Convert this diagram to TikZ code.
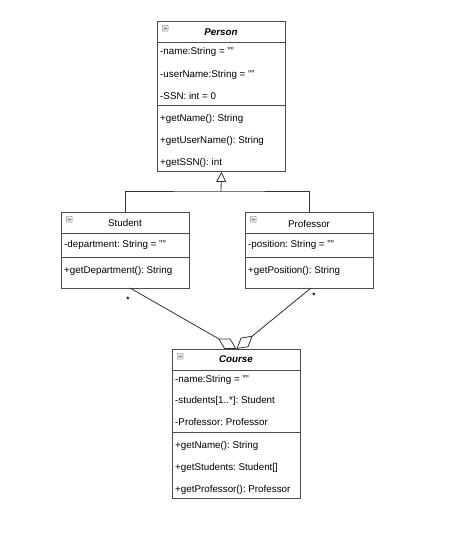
\documentclass[tikz,border=0pt]{standalone}
\usepackage{fontspec}
\setmainfont{Liberation Sans}
\usetikzlibrary{arrows.meta}
\frenchspacing
\tikzset{
  umlbox/.style={draw=black!70, line width=0.9pt, inner sep=0pt, anchor=north west, minimum width=128pt},
  sepline/.style={draw=black!70, line width=0.9pt},
  row/.style={anchor=west, inner sep=0pt, font=\fontsize{9.8}{11}\selectfont},
  hdr/.style={inner sep=0pt, font=\fontsize{9.8}{11}\selectfont},
  hdrbi/.style={inner sep=0pt, font=\fontsize{9.8}{11}\selectfont\bfseries\itshape},
  icon/.style={draw=black!45, fill=black!12, rounded corners=0.8pt, line width=0.4pt, minimum size=6pt, inner sep=0pt, anchor=north west},
  conn/.style={draw=black!80, line width=0.8pt},
  mult/.style={inner sep=0pt, font=\fontsize{8}{9}\selectfont\bfseries},
}
\begin{document}
\begin{tikzpicture}[x=1pt,y=-1pt]
\useasboundingbox[fill=white] (0,0) rectangle (474,549);

% Person
\node[umlbox, minimum height=150pt] (person) at (157,21) {};
\node[icon] (pi) at (162,25) {};
\draw[black!55, line width=0.5pt] ([xshift=1.5pt]pi.west) -- ([xshift=-1.5pt]pi.east);
\node[hdrbi] (ph) at (221,32) {Person};
\draw[sepline] (157,42) -- (285,42);
\node[row] (p1) at (160,52) {-name:String = ""};
\node[row] (p2) at (160,75) {-userName:String = ""};
\node[row] (p3) at (160,96) {-SSN: int = 0};
\draw[sepline] (157,105) -- (285,105);
\node[row] (p4) at (160,119) {+getName(): String};
\node[row] (p5) at (160,141) {+getUserName(): String};
\node[row] (p6) at (160,163) {+getSSN(): int};

% Student
\node[umlbox, minimum height=76pt] (student) at (61,212) {};
\node[icon] (si) at (66,216) {};
\draw[black!55, line width=0.5pt] ([xshift=1.5pt]si.west) -- ([xshift=-1.5pt]si.east);
\node[hdr] (sh) at (125,223) {Student};
\draw[sepline] (61,233) -- (189,233);
\node[row] (s1) at (64,245) {-department: String = ""};
\draw[sepline] (61,257) -- (189,257);
\node[row] (s2) at (64,271) {+getDepartment(): String};

% Professor
\node[umlbox, minimum height=76pt] (prof) at (245,212) {};
\node[icon] (pri) at (250,216) {};
\draw[black!55, line width=0.5pt] ([xshift=1.5pt]pri.west) -- ([xshift=-1.5pt]pri.east);
\node[hdr] (prh) at (309,224) {Professor};
\draw[sepline] (245,233) -- (373,233);
\node[row] (r1) at (248,245) {-position: String = ""};
\draw[sepline] (245,257) -- (373,257);
\node[row] (r2) at (248,271) {+getPosition(): String};

% Course
\node[umlbox, minimum height=149pt] (course) at (172,349) {};
\node[icon] (ci) at (177,353) {};
\draw[black!55, line width=0.5pt] ([xshift=1.5pt]ci.west) -- ([xshift=-1.5pt]ci.east);
\node[hdrbi] (ch) at (236,359) {Course};
\draw[sepline] (172,370) -- (300,370);
\node[row] (c1) at (175,380) {-name:String = ""};
\node[row] (c2) at (175,401) {-students[1..*]: Student};
\node[row] (c3) at (175,422) {-Professor: Professor};
\draw[sepline] (172,432) -- (300,432);
\node[row] (c4) at (175,446) {+getName(): String};
\node[row] (c5) at (175,468) {+getStudents: Student[]};
\node[row] (c6) at (175,490) {+getProfessor(): Professor};

% Generalization
\coordinate (j) at (221,191);
\draw[conn, -{Triangle[open, length=10pt, width=10pt]}] (j) -- (person.south);
\draw[conn] (student.north) |- (j) -| (prof.north);

% Aggregations
\coordinate (sa) at (130,288);
\coordinate (pa) at (311,288);
\draw[conn, -{Diamond[open, length=21pt, width=12pt]}] (sa) -- (course.north);
\draw[conn, -{Diamond[open, length=21pt, width=12pt]}] (pa) -- (course.north);
\node[mult] (m1) at (128,300) {*};
\node[mult] (m2) at (314,296) {*};
\end{tikzpicture}
\end{document}
